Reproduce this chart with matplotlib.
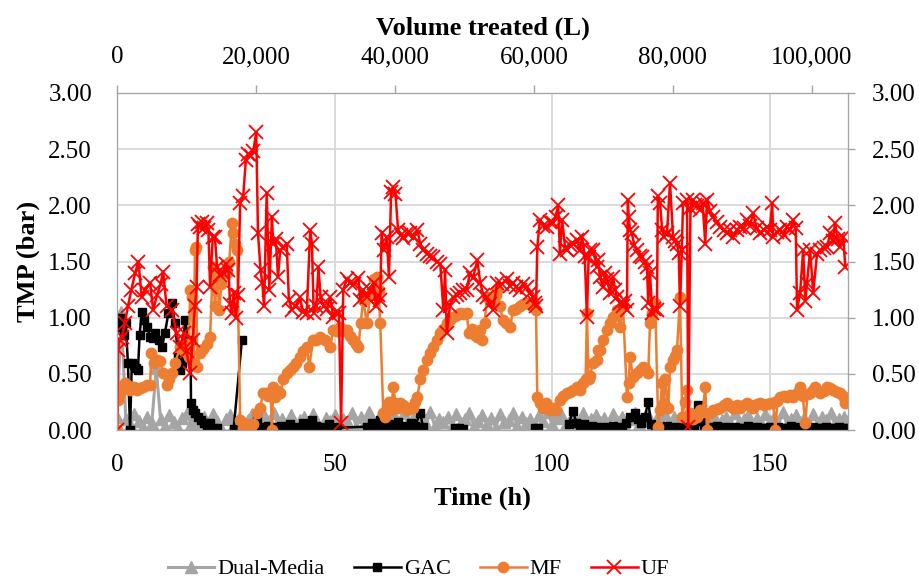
import numpy as np
import matplotlib
matplotlib.use("Agg")
import matplotlib.pyplot as plt
from matplotlib.ticker import FuncFormatter

plt.rcParams['font.family'] = ['Liberation Serif', 'DejaVu Serif']

# ---- data (time in h, TMP in bar; None = no reading) ----
uf_t = [0.0, 0.2, 0.6, 1.1, 1.8, 2.5, 3.3, 4.2, 4.9, 5.7, 6.5, 7.6, 8.3, 9.2, 10.0, 10.6, 11.4, 12.6,
        13.7, 14.5, 15.3, 16.0, 16.8, 17.4, 17.9, 18.3, 18.6, 19.1, 19.6, 20.1, 20.6, 21.0, 21.4, 22.0,
        22.5, 23.0, 23.7, 24.4, 25.0, 25.6, 26.0, 26.4, 26.8, 27.3, 27.8, 28.3, 29.0, 29.6, 30.1, 30.7,
        31.3, 32.0, 32.4, 33.0, 33.4, 33.8, 34.4, 35.0, 35.6, 35.9, 36.5, 37.0, 37.5, 38.2, 39.0, 39.5,
        40.2, 41.0, 42.0, 42.8, 43.6, 44.4, 44.8, 45.2, 45.8, 46.3, 46.8, 47.5, 48.2, 49.0, 49.7, 50.3,
        51.0, 51.5, 52.0, 52.8, 53.6, 54.5, 55.5, 55.9, 56.6, 57.4, 58.2, 59.0, 59.5, 60.0, 60.5, 60.8,
        61.3, 62.0, 62.5, 63.0, 63.5, 64.0, 64.6, 65.2, 65.8, 66.6, 67.4, 68.2, 69.0, 69.7, 70.4, 71.2,
        72.0, 72.7, 73.5, 74.3, 75.0, 75.4, 75.8, 76.5, 77.3, 78.1, 78.9, 79.6, 80.4, 81.1, 81.8, 82.8,
        83.5, 84.2, 85.0, 85.7, 86.4, 87.4, 88.5, 89.6, 90.3, 91.0, 91.8, 92.6, 93.4, 94.3, 95.0, 95.6,
        96.0, 96.3, 96.6, 97.2, 98.0, 98.9, 99.6, 100.2, 100.8, 101.4, 101.8, 102.3, 103.0, 103.4, 104.1,
        104.8, 105.7, 106.4, 106.9, 107.5, 108.0, 108.4, 108.7, 109.4, 110.3, 110.6, 111.0, 111.7, 112.2,
        112.6, 113.3, 114.0, 114.5, 114.9, 115.6, 116.3, 116.8, 117.2, 117.4, 117.6, 117.9, 118.3, 118.9,
        119.5, 120.1, 120.7, 121.3, 121.8, 122.1, 122.5, 123.0, 123.5, 124.1, 124.3, 124.8, 125.3, 125.8,
        126.4, 127.1, 127.8, 128.3, 128.7, 129.1, 129.4, 129.8, 130.1, 131.0, 131.3, 131.8, 132.4, 132.9,
        133.3, 134.0, 134.6, 135.2, 135.6, 136.3, 137.0, 137.8, 138.6, 139.4, 140.2, 140.9, 141.6, 142.4,
        143.2, 144.0, 144.8, 145.5, 146.2, 147.0, 147.8, 148.6, 149.4, 150.0, 150.6, 150.8, 151.6, 152.4,
        153.2, 154.0, 154.7, 155.4, 156.0, 156.3, 157.0, 157.7, 158.2, 158.6, 159.3, 160.0, 160.9, 161.6,
        162.4, 163.2, 163.9, 164.5, 165.0, 165.6, 166.2, 166.9, 167.4]
uf_tmp = [0.00, 0.71, 0.80, 0.83, 0.95, 1.10, 1.25, 1.40, 1.50, 1.18, 1.25, 1.31, 1.07, 1.20, 1.30, 1.41, 1.10, 1.07,
          0.86, 0.74, 0.86, 0.70, 0.51, 0.80, 1.10, 1.27, 1.83, 1.81, 1.85, 1.80, 1.84, 1.78, 1.27, 1.72,
          1.72, 1.45, 1.38, 1.40, 1.48, 1.42, 1.12, 1.04, 1.22, 1.00, 1.20, 2.02, 2.08, 2.40, 2.46, 2.44,
          2.48, 2.65, 1.75, 1.42, 1.31, 1.10, 2.11, 1.25, 1.90, 1.66, 1.70, 1.36, 1.60, 1.62, 1.66, 1.16,
          1.07, 1.10, 1.18, 1.05, 1.04, 1.78, 1.66, 1.04, 1.10, 1.45, 1.18, 1.10, 1.08, 1.18, 1.01, 1.05,
          1.04, 0.06, 1.25, 1.34, 1.31, 1.30, 1.35, 1.16, 1.25, 1.18, 1.25, 1.31, 1.10, 1.20, 1.16, 1.75,
          1.60, 1.72, 1.36, 2.12, 2.16, 2.10, 1.78, 1.74, 1.71, 1.75, 1.75, 1.72, 1.78, 1.66, 1.60, 1.57,
          1.55, 1.54, 1.50, 1.48, 1.07, 1.42, 0.86, 1.10, 1.18, 1.20, 1.22, 1.25, 1.25, 1.40, 1.35, 1.51,
          1.31, 1.20, 1.18, 1.12, 1.07, 1.31, 1.30, 1.34, 1.28, 1.31, 1.27, 1.25, 1.30, 1.27, 1.22, 1.18,
          1.13, 1.10, 1.63, 1.87, 1.82, 1.81, 1.85, 1.84, 1.90, 2.00, 1.57, 1.87, 1.62, 1.60, 1.65,
          1.66, 1.69, 1.60, 1.72, 1.55, 1.01, 1.54, 1.60, 1.60, 1.45, 1.51, 1.36, 1.27, 1.40,
          1.34, 1.22, 1.36, 1.25, 1.18, 1.13, 1.10, 1.15, 1.07, 2.05, 1.90, 1.78, 1.75, 1.65,
          1.60, 1.55, 1.54, 1.50, 1.45, 1.13, 1.40, 1.04, 1.08, 1.07, 2.08, 2.02, 1.78, 1.72,
          1.75, 2.20, 1.72, 1.68, 1.66, 1.58, 1.10, 1.60, 2.02, 2.05, 0.03, 1.98, 2.05, 2.00,
          1.99, 1.96, 2.02, 1.66, 2.05, 1.95, 1.90, 1.85, 1.81, 1.78, 1.75, 1.78, 1.72, 1.78,
          1.81, 1.80, 1.87, 1.82, 1.93, 1.80, 1.75, 1.78, 1.81, 1.78, 2.02, 1.72, 1.76, 1.78,
          1.74, 1.81, 1.78, 1.87, 1.80, 1.07, 1.22, 1.60, 1.15, 1.31, 1.60, 1.22, 1.57, 1.60,
          1.62, 1.63, 1.75, 1.68, 1.84, 1.70, 1.63, 1.72, 1.45]

mf_t = [0.0, 0.2, 0.7, 1.2, 1.8, 2.4, 3.0, 3.8, 4.6, 5.3, 6.0, 6.8, 7.6, 7.9, 8.5, 9.2, 9.9, 10.6, 11.5,
        12.0, 12.6, 13.4, 14.5, 15.3, 16.0, 16.5, 16.8, 17.2, 17.6, 17.9, 18.2, 18.4, 19.0, 19.8, 20.7,
        21.4, 22.0, 22.5, 23.0, 23.5, 24.0, 24.4, 25.3, 25.8, 26.4, 26.7, 27.1, 27.6, 28.3, 28.9, 29.4,
        29.9, 30.5, 31.2, 32.2, 32.9, 33.6, 34.2, 34.8, 35.3, 35.6, 35.9, 36.4, 37.0, 37.5, 38.2, 39.0,
        39.7, 40.5, 41.2, 42.0, 42.8, 43.6, 44.2, 45.0, 45.8, 46.7, 47.8, 49.0, 49.7, 50.5, 51.3, 52.0,
        52.8, 53.6, 54.3, 55.0, 55.5, 56.0, 56.6, 57.4, 58.2, 59.0, 59.7, 60.1, 60.5, 61.2, 61.6, 62.0,
        62.5, 63.0, 63.5, 64.0, 64.5, 65.0, 65.8, 66.6, 67.3, 68.0, 68.5, 69.0, 69.7, 70.3, 71.3, 72.0,
        72.6, 73.5, 74.3, 75.0, 75.8, 76.5, 77.3, 78.1, 78.9, 79.6, 80.4, 80.8, 81.5, 82.2, 82.8, 83.5,
        84.0, 84.5, 85.0, 85.7, 86.4, 87.0, 87.4, 88.0, 88.7, 89.5, 90.4, 91.0, 91.8, 92.6, 93.4, 94.3,
        95.4, 96.3, 96.6, 97.2, 97.9, 98.5, 99.5, 100.2, 101.0, 101.8, 102.6, 103.4, 104.1, 104.8, 105.7,
        106.4, 107.0, 107.7, 108.0, 108.4, 108.7, 109.4, 110.3, 110.6, 111.0, 111.7, 112.6, 113.3, 114.0,
        114.9, 115.6, 116.3, 117.2, 117.6, 117.9, 118.6, 119.5, 120.2, 121.0, 121.4, 122.1, 122.5, 123.0,
        123.7, 124.4, 124.8, 125.3, 125.7, 126.0, 126.7, 127.1, 127.8, 128.3, 128.7, 129.4, 129.9, 130.5,
        131.0, 131.6, 132.3, 133.3, 134.0, 134.6, 135.2, 135.6, 136.3, 137.0, 137.8, 138.6, 139.4, 140.2,
        141.0, 141.6, 142.4, 143.2, 144.0, 144.8, 145.5, 146.2, 147.0, 147.8, 148.6, 149.4, 150.2, 150.8,
        151.3, 151.8, 152.4, 153.2, 154.0, 154.7, 155.4, 156.2, 157.0, 157.6, 158.2, 158.7, 159.3, 159.9,
        160.5, 161.0, 161.6, 162.4, 163.2, 163.9, 164.6, 165.4, 166.2, 166.8, 167.4]
mf_tmp = [0.00, 0.27, 0.33, 0.38, 0.42, 0.40, 0.36, 0.38, 0.36, 0.37, 0.38, 0.40, 0.40, 0.69, 0.60, 0.62, 0.61, 0.51, 0.40,
          0.45, 0.51, 0.60, 0.74, 0.70, 0.77, 0.65, 1.25, 1.18, 0.60, 1.60, 1.63, 0.56, 0.69, 0.72, 0.77,
          0.83, 1.45, 1.10, 1.36, 1.07, 1.30, 1.40, 1.40, 1.50, 1.84, 1.75, 1.66, 1.60, 0.09, 0.02, 0.05,
          0.00, 0.03, 0.05, 0.15, 0.20, 0.33, 0.33, 0.30, 0.34, 0.00, 0.38, 0.29, 0.35, 0.33, 0.45, 0.51,
          0.53, 0.56, 0.60, 0.65, 0.70, 0.74, 0.56, 0.80, 0.80, 0.83, 0.80, 0.74, 0.89, 0.88, 0.92, 0.88,
          0.89, 0.84, 0.80, 0.77, 0.74, 0.95, 1.16, 0.95, 1.20, 1.34, 1.36, 1.25, 0.95, 0.15, 0.12, 0.20,
          0.25, 0.18, 0.38, 0.24, 0.20, 0.24, 0.22, 0.18, 0.20, 0.20, 0.25, 0.29, 0.45, 0.53, 0.62, 0.69,
          0.74, 0.80, 0.86, 0.90, 0.95, 0.98, 1.01, 1.02, 1.04, 1.03, 1.04, 0.86, 0.90, 0.85, 0.83, 0.89,
          0.80, 0.95, 1.18, 1.15, 1.18, 1.20, 1.25, 1.10, 0.98, 0.95, 0.92, 1.07, 1.08, 1.10, 1.12, 1.13,
          1.10, 1.07, 0.29, 0.24, 0.20, 0.24, 0.18, 0.20, 0.18, 0.27, 0.30, 0.33, 0.34, 0.36, 0.38,
          0.36, 0.42, 0.45, 1.04, 0.45, 0.48, 0.60, 0.62, 0.71, 0.71, 0.80, 0.89, 0.95, 1.01,
          1.07, 0.92, 1.10, 0.29, 0.42, 0.65, 0.47, 0.51, 0.53, 0.56, 0.55, 0.51, 0.95, 1.04,
          1.13, 0.03, 0.18, 0.42, 0.24, 0.45, 0.20, 0.56, 0.62, 0.66, 0.71, 1.18, 0.12, 0.25,
          0.36, 0.15, 0.10, 0.12, 0.18, 0.16, 0.38, 0.00, 0.15, 0.18, 0.19, 0.20, 0.22, 0.24,
          0.21, 0.20, 0.22, 0.20, 0.22, 0.24, 0.22, 0.20, 0.23, 0.24, 0.22, 0.23, 0.24, 0.24,
          0.00, 0.26, 0.29, 0.30, 0.29, 0.31, 0.29, 0.33, 0.38, 0.30, 0.06, 0.32, 0.33, 0.36,
          0.38, 0.35, 0.33, 0.35, 0.38, 0.37, 0.36, 0.34, 0.33, 0.30, 0.24]

gac_t = [0.0, 0.3, 0.6, 1.1, 1.5, 2.0, 2.5, 3.0, 3.4, 3.8, 4.3, 4.8, 5.2, 5.7, 6.3, 6.9, 7.6, 8.2, 8.8,
         9.6, 10.3, 11.0, 11.8, 12.6, 13.3, 14.1, 14.5, 15.0, 15.6, 16.5, 16.9, 17.0, 17.5, 18.0, 18.6,
         19.3, 20.0, 20.7, 21.4, 22.0, 22.5, 23.0, 26.0, 26.8, 28.7, 30.5, 31.3, 32.2, 33.0, 33.8, 34.8,
         35.8, 36.8, 37.8, 38.8, 39.8, 40.8, 41.8, 42.8, 43.8, 44.8, 45.8, 46.8, 47.8, 48.8, 49.8, 50.5,
         57.5, 58.5, 59.5, 60.5, 61.5, 62.5, 63.5, 64.5, 65.5, 66.5, 67.5, 68.5, 69.7, 70.3, 73.5, 77.7,
         78.6, 79.5, 95.0, 96.0, 96.8, 103.0, 103.8, 104.8, 105.6, 106.5, 107.4, 108.3, 109.2, 110.1,
         111.0, 112.0, 113.0, 114.0, 115.0, 116.0, 117.0, 118.0, 119.0, 119.7, 120.5, 121.3, 122.1, 122.8,
         123.6, 124.5, 125.5, 126.5, 127.5, 128.5, 129.5, 130.5, 131.5, 132.5, 133.6, 134.3, 135.0, 136.0,
         137.0, 138.0, 139.0, 140.0, 141.0, 142.0, 143.0, 144.0, 145.0, 146.0, 147.0, 148.0, 149.0, 150.0,
         151.0, 152.0, 153.0, 154.0, 155.0, 156.0, 157.0, 158.0, 159.0, 160.0, 161.0, 162.0, 163.0, 164.0,
         165.0, 166.0, 167.0, 168.0]
gac_tmp = [1.00, 0.93, 1.00, 0.92, 0.85, 0.95, 0.60, 0.00, 0.60, 0.58, 0.55, 0.53, 0.85, 1.05, 0.98, 0.92, 0.83, 0.82, 0.86,
           0.80, 0.74, 0.86, 1.04, 1.13, 0.95, 0.65, 0.53, 0.60, 0.98, 0.80, 0.80, 0.24, 0.18, 0.15, 0.12,
           0.09, 0.06, 0.03, 0.06, 0.02, 0.00, 0.02, None, 0.01, 0.80, None, 0.05, 0.09, 0.03, 0.02, 0.04,
           0.03, 0.02, 0.04, 0.03, 0.05, 0.02, 0.03, 0.06, 0.03, 0.09, 0.04, 0.02, 0.03, 0.05, 0.03, 0.02,
           0.03, 0.06, 0.04, 0.09, 0.03, 0.05, 0.02, 0.07, 0.04, 0.03, 0.06, 0.04, 0.15, 0.03, None, 0.02,
           0.02, 0.01, None, 0.02, 0.02, None, 0.05, 0.17, 0.06, 0.03, 0.05, 0.02, 0.04, 0.03,
           0.02, 0.03, 0.02, 0.04, 0.02, 0.03, 0.06, 0.12, 0.15, 0.10, 0.06, 0.12, 0.25, 0.05,
           0.02, 0.03, 0.02, 0.04, 0.02, 0.03, 0.02, 0.03, 0.02, 0.04, 0.22, 0.08, 0.02, 0.03,
           0.02, 0.04, 0.02, 0.03, 0.02, 0.03, 0.02, 0.02, 0.04, 0.02, 0.03, 0.02, 0.02, 0.03,
           0.02, 0.03, 0.02, 0.02, 0.04, 0.02, 0.03, 0.02, 0.02, 0.03, 0.02, 0.02, 0.03, 0.02,
           0.02, 0.03, 0.02, 0.02]

# dual-media, one reading per hour from 0 h to 168 h
dm_tmp = [0.12, 1.05, 0.10, 0.05, 0.14, 0.08, 0.03, 0.12, 0.06, 0.55, 0.10, 0.04, 0.13, 0.07, 0.02, 0.11,
          0.15, 0.05, 0.09, 0.03, 0.12, 0.06, 0.14, 0.08, 0.02, 0.10, 0.13, 0.05, 0.11, 0.04, 0.09, 0.14,
          0.06, 0.02, 0.12, 0.08, 0.15, 0.04, 0.10, 0.06, 0.13, 0.03, 0.09, 0.12, 0.05, 0.14, 0.07, 0.02,
          0.11, 0.08, 0.13, 0.04, 0.10, 0.06, 0.15, 0.03, 0.12, 0.07, 0.16, 0.05, 0.10, 0.14, 0.04, 0.09,
          0.12, 0.06, 0.15, 0.03, 0.11, 0.08, 0.13, 0.05, 0.16, 0.04, 0.10, 0.07, 0.12, 0.03, 0.14, 0.06,
          0.10, 0.15, 0.04, 0.08, 0.13, 0.05, 0.11, 0.02, 0.14, 0.07, 0.09, 0.15, 0.04, 0.12, 0.06, 0.10,
          0.03, 0.13, 0.08, 0.16, 0.05, 0.11, 0.14, 0.04, 0.09, 0.12, 0.06, 0.15, 0.03, 0.10, 0.13, 0.07,
          0.11, 0.04, 0.14, 0.08, 0.12, 0.02, 0.10, 0.15, 0.05, 0.09, 0.13, 0.04, 0.11, 0.07, 0.14, 0.03,
          0.12, 0.06, 0.10, 0.15, 0.05, 0.08, 0.13, 0.03, 0.11, 0.14, 0.06, 0.09, 0.12, 0.04, 0.15, 0.07,
          0.10, 0.13, 0.03, 0.11, 0.06, 0.14, 0.08, 0.12, 0.04, 0.16, 0.05, 0.10, 0.13, 0.07, 0.11, 0.03,
          0.14, 0.06, 0.12, 0.09, 0.15, 0.05, 0.10, 0.12, 0.08]
dm_t = list(range(len(dm_tmp)))

time_ticks = [0, 50, 100, 150]
volume_ticks = [0, 20000, 40000, 60000, 80000, 100000]
tmp_ticks = [0.0, 0.5, 1.0, 1.5, 2.0, 2.5, 3.0]
time_max = 168
volume_max = 105200


def to_arr(vals):
    return np.array([np.nan if v is None else v for v in vals], dtype=float)


fig, ax = plt.subplots(figsize=(9.2, 5.83), dpi=100)
fig.subplots_adjust(left=0.1272, right=0.9217, top=0.8405, bottom=0.2624)

ax.plot(dm_t, to_arr(dm_tmp), color='#a5a5a5', marker='^', ms=9, lw=2.2, label='Dual-Media', zorder=2)
ax.plot(gac_t, to_arr(gac_tmp), color='black', marker='s', ms=5.5, lw=1.8, label='GAC', zorder=3)
ax.plot(mf_t, to_arr(mf_tmp), color='#ed7d31', marker='o', ms=7.5, lw=1.8, label='MF', zorder=4)
ax.plot(uf_t, to_arr(uf_tmp), color='#ff0000', marker='x', ms=9.5, mew=1.3, lw=1.8, label='UF', zorder=5)

ax.set_xlim(0, time_max)
ax.set_ylim(0, 3)
ax.set_xticks(time_ticks)
ax.set_yticks(tmp_ticks)
ax.yaxis.set_major_formatter(FuncFormatter(lambda v, p: f"{v:.2f}"))
ax.grid(True, color='#d9d9d9', lw=1.4)
ax.set_axisbelow(True)
ax.tick_params(axis='x', length=0, pad=17, labelsize=18)
ax.tick_params(axis='y', length=0, pad=18, labelsize=18)
for s in ax.spines.values():
    s.set_color('#a6a6a6')
ax.set_xlabel('Time (h)', fontsize=19, fontweight='bold', labelpad=8)
ax.set_ylabel('TMP (bar)', fontsize=19, fontweight='bold', labelpad=6)

# top axis: volume treated
ax_top = ax.twiny()
ax_top.set_xlim(0, volume_max)
ax_top.set_xticks(volume_ticks)
ax_top.xaxis.set_major_formatter(FuncFormatter(lambda v, p: f"{int(v):,}"))
ax_top.tick_params(axis='x', length=6, width=1, color='#a6a6a6', pad=12, labelsize=18)
ax_top.set_xlabel('Volume treated (L)', fontsize=19, fontweight='bold', labelpad=8)

# right axis: same TMP scale
ax_r = ax.twinx()
ax_r.set_ylim(0, 3)
ax_r.set_yticks(tmp_ticks)
ax_r.yaxis.set_major_formatter(FuncFormatter(lambda v, p: f"{v:.2f}"))
ax_r.tick_params(axis='y', length=5, width=1, color='#a6a6a6', pad=12, labelsize=18)
for a in (ax_top, ax_r):
    for s in a.spines.values():
        s.set_color('#a6a6a6')

handles, labels = ax.get_legend_handles_labels()
fig.legend(handles, labels, loc='lower center', bbox_to_anchor=(0.455, -0.028), ncol=4, frameon=False,
           fontsize=16, handlelength=2.1, handletextpad=0.15, columnspacing=1.3)

fig.savefig('out.png', dpi=100)
